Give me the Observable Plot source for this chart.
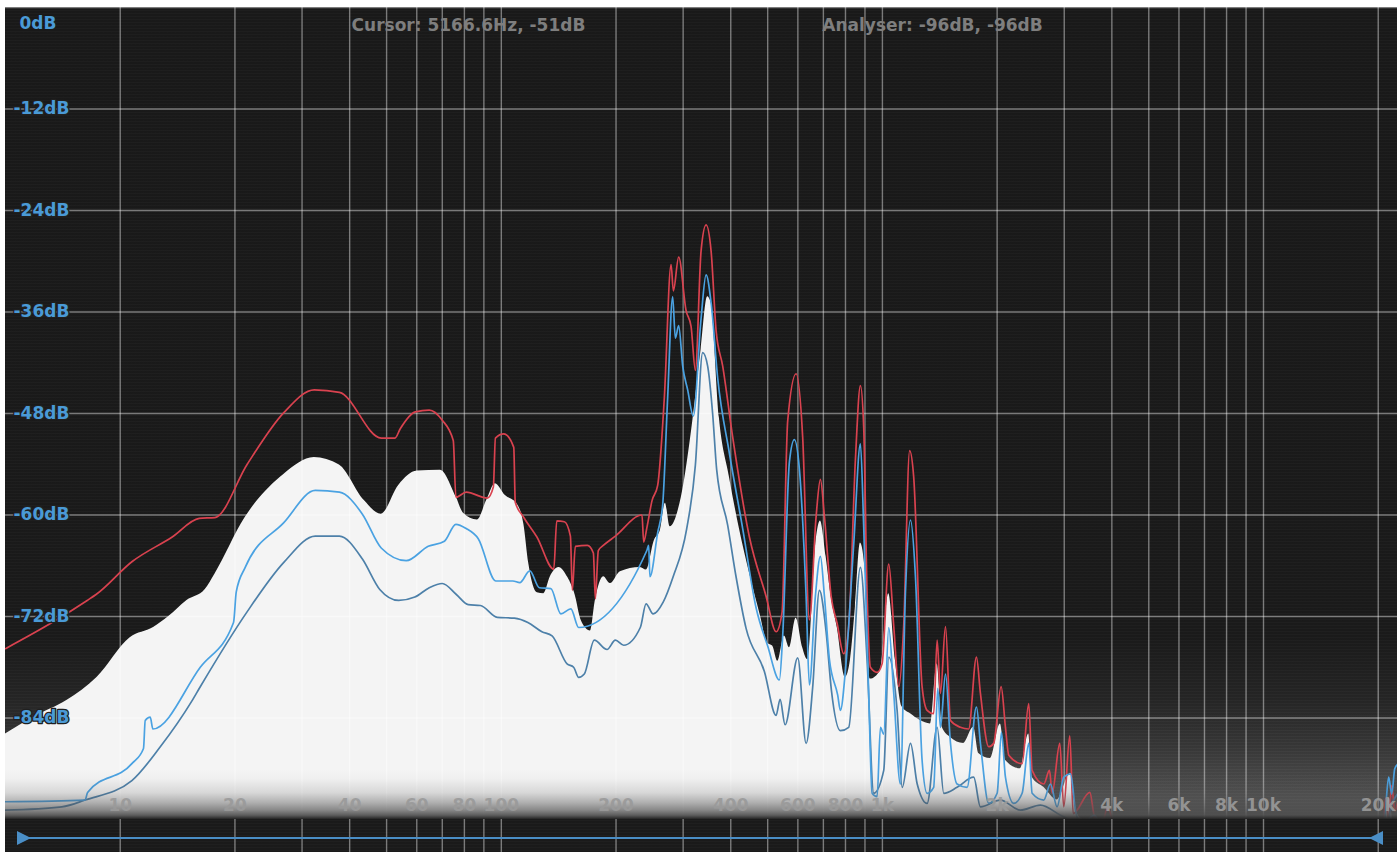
<!DOCTYPE html>
<html>
<head>
<meta charset="utf-8">
<script src="https://cdn.jsdelivr.net/npm/d3@7"></script>
<script src="https://cdn.jsdelivr.net/npm/@observablehq/plot@0.6"></script>
<style>
html, body { margin: 0; padding: 0; background: #ffffff; overflow: hidden; }
#panel {
  position: absolute; left: 5px; top: 7px; width: 1392px; height: 845px; overflow: hidden;
  background-image:
    repeating-linear-gradient(to bottom, rgba(255,255,255,0.018) 0px, rgba(255,255,255,0.018) 1px, rgba(0,0,0,0.035) 1px, rgba(0,0,0,0.035) 3px),
    linear-gradient(to bottom, #1a1a1a 0px, #1b1b1b 630px, #262626 693px, #3a3a3a 743px, #565656 795px, #565656 812px, #1b1b1b 812px, #1b1b1b 845px);
}
#panel svg { display: block; }
</style>
</head>
<body>
<div id="panel"></div>
<script>
// ---- Data (frequency in Hz, level in dB) ----
const redHz = [5, 6.69, 8.19, 8.64, 10.75, 13.69, 16.12, 17.72, 21.54, 26.87,
  32.3, 37.6, 48.4, 52.6, 54.3, 59.5, 64.7, 70.0, 74.8, 76.0,
  80.9, 91.9, 95.3, 96.5, 101.5, 107.8, 108.8, 114.2, 124, 137.3,
  139.8, 146.4, 151.8, 153.6, 156.4, 168.2, 174.4, 176.5, 179.7, 185.2,
  199.2, 234, 236.3, 241.2, 248.6, 257.2, 267.8, 278.9, 282.8, 292,
  305.3, 314.7, 323, 334.3, 344.6, 355.2, 366.1, 381, 404.7, 447.7,
  495.1, 526, 545.4, 564.2, 593.6, 617.7, 643.3, 669.9, 687.6, 704.4,
  733.5, 760.5, 791.4, 815.8, 849.4, 875.6, 893.1, 911.6, 930, 968.5,
  998, 1039, 1071, 1104, 1137, 1179, 1208, 1271, 1310, 1363,
  1392, 1420, 1464, 1509, 1602, 1684, 1765, 1808, 1901, 1959,
  2049, 2103, 2146, 2326, 2421, 2471, 2651, 2744, 2789, 2920,
  2992, 3102, 3167, 3502, 3586, 3734,
  3900, 4100, 6000, 12000, 20300, 20900, 21300, 21700, 22100, 22470];
const redDb = [-75.8, -72.6, -70.1, -69.4, -65.5, -62.6, -60.4, -60.3, -54.0, -47.9,
  -45.2, -45.5, -50.9, -50.9, -49.8, -47.8, -47.6, -48.8, -51.2, -57.9,
  -57.3, -58.0, -56.7, -50.9, -50.4, -52.0, -58.5, -60.2, -62.6, -66.4,
  -60.7, -60.8, -62.5, -68.9, -63.7, -63.6, -64.5, -69.9, -64.2, -63.6,
  -62.5, -60.0, -63.2, -61.4, -58.3, -56.5, -46.1, -30.4, -33.5, -29.5,
  -35.8, -37.7, -42.9, -28.8, -25.7, -28.8, -38.2, -42.4, -50.8, -62.6,
  -69.6, -73.8, -71.5, -48.9, -43.3, -50.8, -72.4, -60.2, -55.8, -60.2,
  -69.6, -72.8, -76.4, -73.2, -53.5, -44.7, -49.6, -69.3, -78.0, -78.6,
  -77.6, -65.8, -73.2, -80.3, -73.2, -52.4, -55.5, -80.3, -83.1, -83.5,
  -74.8, -81.1, -73.2, -84.3, -85.1, -85.3, -76.8, -81.1, -87.4, -87.0,
  -80.3, -85.1, -88.4, -89.4, -82.3, -90.2, -91.8, -90.2, -92.9, -87.0,
  -94.5, -86.1, -95.3, -92.8, -95.3, -97.3,
  -94.6, -98, -110, -115, -104, -93.5, -96, -92.0, -95, -94];

const whiteHz = [5, 5.92, 7.26, 8.69, 10.62, 12.23, 13.41, 14.97, 16.72, 17.72,
  21.28, 26.87, 32.3, 37.6, 43.7, 48.4, 53.8, 60.2, 69.2, 76.2,
  79.6, 86.5, 91.7, 96.5, 102.5, 110, 114.6, 118.1, 124.3, 129.3,
  134.5, 141.6, 149.5, 156.1, 162.2, 171.3, 176.5, 185.6, 193.3, 205.3,
  231.6, 240.3, 252.2, 261.5, 269.5, 277.3, 296.8, 317.8, 334.3, 347.9,
  355.2, 373.4, 396.7, 421.4, 447.7, 478.5, 500, 515.2, 531.2, 553.2,
  570.2, 593.6, 617.7, 636.6, 669.9, 687.6, 711.6, 733.5, 761.9, 799.6,
  824.1, 849.4, 875.6, 902.6, 930.1, 988.1, 1039, 1082, 1127, 1185,
  1258, 1337, 1392, 1435, 1509, 1634, 1736, 1790, 1920, 2040,
  2103, 2302, 2421, 2471, 2651, 2873, 3115, 3243, 3411,
  3800, 6000, 15000, 20500, 21000, 21400, 21800, 22470];
const whiteDb = [-85.9, -83.9, -81.9, -79.2, -74.5, -73.3, -72.0, -70.1, -68.8, -67.0,
  -60.3, -55.2, -53.2, -54.1, -58.3, -59.9, -56.5, -54.8, -54.7, -57.9,
  -59.8, -60.6, -58.2, -56.3, -57.7, -58.7, -61.1, -65.8, -69.2, -69.3,
  -67.3, -66.2, -67.4, -69.4, -72.5, -73.7, -70.1, -67.3, -68.1, -66.7,
  -66.2, -66.5, -63.0, -61.8, -58.6, -61.4, -57.9, -49.0, -40.5, -34.2,
  -34.9, -48.5, -55.5, -61.6, -66.8, -71.9, -75.2, -75.5, -77.3, -74.3,
  -75.7, -72.2, -75.7, -77.1, -63.0, -60.7, -64.9, -69.6, -73.4, -79.2,
  -77.2, -70.9, -63.3, -66.9, -79.4, -78.4, -69.3, -77.2, -82.7, -83.5,
  -84.3, -84.7, -77.6, -85.1, -86.3, -87.0, -85.1, -88.2, -88.8, -84.7,
  -89.0, -90.0, -85.9, -91.0, -92.2, -93.7, -90.6, -95.3, -96.3,
  -99, -115, -115, -100, -94.5, -93.5, -96, -98];

const lightHz = [5, 8.09, 8.21, 10.73, 11.51, 11.63, 11.99, 12.18, 16.22, 19.83,
  20.16, 21.28, 26.87, 32.5, 37.6, 43.2, 48.4, 56.3, 64.3, 70.9,
  76.0, 80.9, 87.0, 96.7, 107.2, 111.8, 118.8, 125.8, 134.9, 143.3,
  152.2, 159.6, 240.9, 243.6, 245.4, 257.2, 265.1, 273.2, 281.6, 286.2,
  292, 299.2, 308.3, 319, 334.3, 344.6, 355.2, 369.6, 396.7, 429.9,
  466.3, 500, 536.7, 547.4, 570.2, 587.5, 605.6, 630.6, 643.3, 667,
  687.6, 704.4, 726.1, 763.3, 775.9, 799.6, 841, 875.6, 893.1, 920.4,
  939.8, 968.5, 988.1, 1008, 1039, 1071, 1115, 1149, 1185, 1221,
  1271, 1310, 1363, 1397, 1420, 1464, 1509, 1570, 1668, 1765,
  1808, 1901, 2000, 2053, 2103, 2211, 2326, 2421, 2471, 2651,
  2760, 2873, 2992, 3115, 3211, 3310,
  3600, 3800, 6000, 15000, 20500, 20900, 21300, 21700, 22100, 22470];
const lightDb = [-93.9, -93.7, -92.8, -89.4, -87.6, -84.3, -83.9, -85.3, -78.0, -72.7,
  -69.1, -66.2, -60.9, -57.1, -57.3, -59.9, -63.9, -65.4, -63.7, -63.1,
  -61.1, -61.6, -62.8, -67.8, -67.8, -68.0, -66.6, -68.6, -68.7, -71.7,
  -71.1, -73.3, -64.2, -63.6, -67.3, -62.1, -58.8, -46.1, -34.2, -39.1,
  -37.6, -42.4, -45.2, -48.3, -36.8, -31.6, -34.9, -43.8, -52.7, -61.6,
  -71.0, -75.5, -79.5, -74.3, -53.7, -51.1, -54.6, -69.6, -80.1, -69.6,
  -64.9, -69.6, -77.1, -81.3, -83.1, -78.4, -63.4, -51.6, -61.4, -81.1,
  -92.9, -93.3, -85.1, -85.9, -73.3, -81.1, -91.8, -69.3, -60.6, -67.3,
  -89.0, -92.9, -92.2, -80.5, -85.1, -78.8, -87.0, -91.8, -92.2, -82.7,
  -87.0, -94.1, -92.9, -85.7, -91.0, -94.1, -92.9, -87.0, -92.9, -93.7,
  -91.8, -94.5, -91.0, -90.6, -94.9, -96.7,
  -95.5, -98, -115, -115, -100, -95, -91, -93, -90, -89.5];

const darkHz = [5, 7.03, 8.09, 10.73, 12.74, 15.41, 16.22, 21.41, 26.87, 32.5,
  37.6, 43.2, 47.98, 53.8, 59.3, 64.7, 70.0, 76.2, 81.9, 88.1,
  97.6, 108.2, 117.4, 127.8, 135.9, 148.8, 154.8, 159.6, 165.1, 175.4,
  189.4, 199.2, 209.4, 231.6, 239.8, 250.3, 265.9, 282.4, 306.3, 323,
  337.6, 347.9, 358.5, 367.3, 392.6, 413, 438.8, 490.1, 526, 538.9,
  555.4, 599.5, 630.6, 656.1, 683.4, 711.6, 734.7, 775.9, 815.8, 875.6,
  911.6, 949, 1008, 1039, 1093, 1127, 1185, 1234, 1310, 1392,
  1449, 1570, 1736, 1808, 2040, 2302, 2598, 2933, 3310,
  4000, 15000, 20800, 21500, 22470];
const darkDb = [-94.9, -94.5, -93.7, -91.4, -87.4, -82.0, -80.3, -71.6, -65.6, -62.5,
  -62.5, -65.2, -68.8, -70.1, -69.7, -68.6, -68.1, -69.4, -70.6, -70.7,
  -72.1, -72.2, -72.7, -73.8, -74.3, -77.6, -78.0, -79.2, -78.8, -74.8,
  -75.9, -74.8, -75.4, -73.3, -70.5, -71.7, -70.3, -67.3, -61.7, -54.1,
  -40.8, -42.4, -48.0, -54.6, -61.2, -67.3, -73.4, -78.5, -83.7, -81.8,
  -84.8, -76.9, -87.0, -80.4, -68.9, -73.8, -80.7, -85.5, -85.1, -66.2,
  -77.2, -92.9, -90.2, -76.8, -83.1, -92.2, -87.0, -91.8, -94.1, -85.1,
  -92.9, -92.2, -91.0, -94.5, -93.7, -94.9, -94.3, -95.5, -96.7,
  -100, -115, -100, -95, -93];

const gridHz = [10, 20, 30, 40, 50, 60, 70, 80, 90, 100, 200, 300, 400, 500, 600, 700, 800, 900,
  1000, 2000, 3000, 4000, 5000, 6000, 7000, 8000, 9000, 10000, 20000];
const xTickHz = [10, 20, 40, 60, 80, 100, 200, 400, 600, 800, 1000, 2000, 4000, 6000, 8000, 10000, 20000];
const xTickText = ["10", "20", "40", "60", "80", "100", "200", "400", "600", "800", "1k", "2k", "4k", "6k", "8k", "10k", "20k"];
const dbTicks = [-12, -24, -36, -48, -60, -72, -84];
const dbGrid = [0, -12, -24, -36, -48, -60, -72, -84];
const headerTexts = ["Cursor: 5166.6Hz, -51dB", "Analyser: -96dB, -96dB"];
const headerOffsets = [-233, 231];

// ---- Build tables ----
const zip = (xs, ys) => xs.map((f, i) => ({f, db: ys[i]}));
const red = zip(redHz, redDb);
const white = zip(whiteHz, whiteDb);
const light = zip(lightHz, lightDb);
const dark = zip(darkHz, darkDb);

const FONT = "DejaVu Sans";
const CURVE = "monotone-x";

function bottomFade(index, scales, values, dim) {
  const yb = scales.y(-96);
  const g = d3.create("svg:g");
  const grad = g.append("defs").append("linearGradient")
    .attr("id", "fadeGrad").attr("x1", 0).attr("x2", 0).attr("y1", 0).attr("y2", 1);
  const stops = [[0, 0], [0.2, 0.03], [0.47, 0.17], [0.67, 0.41], [0.82, 0.65], [0.92, 0.9], [1, 1]];
  stops.forEach(([o, a], i) => grad.append("stop")
    .attr("offset", o)
    .attr("stop-color", i === stops.length - 1 ? "#242424" : "rgb(78,78,78)")
    .attr("stop-opacity", a));
  g.append("rect")
    .attr("x", dim.marginLeft)
    .attr("width", dim.width - dim.marginLeft - dim.marginRight)
    .attr("y", yb - 50).attr("height", 50)
    .attr("fill", "url(#fadeGrad)");
  return g.node();
}

function slider(index, scales, values, dim) {
  const yy = dim.height - 14;
  const x0 = dim.marginLeft + 12;
  const x1 = dim.width - dim.marginRight - 14;
  const g = d3.create("svg:g").attr("fill", "#4a8ec6").attr("stroke", "#4a8ec6");
  g.append("line").attr("x1", x0).attr("x2", x1).attr("y1", yy).attr("y2", yy).attr("stroke-width", 2);
  g.append("polygon").attr("stroke", "none").attr("points", `${x0},${yy - 7} ${x0},${yy + 7} ${x0 + 14},${yy}`);
  g.append("polygon").attr("stroke", "none").attr("points", `${x1},${yy - 7} ${x1},${yy + 7} ${x1 - 14},${yy}`);
  return g.node();
}

const chart = Plot.plot({
  width: 1392,
  height: 845,
  marginTop: 0,
  marginLeft: 0,
  marginRight: 0,
  marginBottom: 33,
  style: {background: "transparent", fontFamily: FONT, overflow: "visible"},
  x: {type: "log", domain: [5, 22470], axis: null},
  y: {domain: [-96, 0], axis: null},
  marks: [
    Plot.areaY(white, {x: "f", y1: -140, y2: "db", fill: "#f4f4f4", curve: CURVE, clip: true}),
    Plot.ruleX(gridHz, {x: d => d, y1: 0, y2: -100, stroke: "#ffffff", strokeOpacity: 0.42, strokeWidth: 1.4}),
    Plot.ruleY(dbGrid, {y: d => d, stroke: "#ffffff", strokeOpacity: 0.42, strokeWidth: 1.4}),
    Plot.line(red, {x: "f", y: "db", stroke: "#d9424f", strokeWidth: 1.7, curve: CURVE, clip: true}),
    Plot.line(dark, {x: "f", y: "db", stroke: "#4d80a9", strokeWidth: 1.7, curve: CURVE, clip: true}),
    Plot.line(light, {x: "f", y: "db", stroke: "#4aa2e2", strokeWidth: 1.7, curve: CURVE, clip: true}),
    bottomFade,
    Plot.text(xTickHz, {x: d => d, text: (d, i) => xTickText[i], frameAnchor: "bottom", dy: -14,
      lineAnchor: "middle", fill: "#9a9a9a", fillOpacity: 0.92, fontSize: 17, fontWeight: 700, fontFamily: FONT}),
    Plot.text(dbTicks, {y: d => d, text: d => `${d}dB`, frameAnchor: "left", dx: 8, textAnchor: "start",
      lineAnchor: "middle", fill: "#4a9ad6", stroke: "#202020", strokeWidth: 2.5, paintOrder: "stroke",
      fontSize: 17, fontWeight: 700, fontFamily: FONT}),
    Plot.text([0], {y: d => d, text: ["0dB"], frameAnchor: "left", dx: 14, dy: 16, textAnchor: "start",
      lineAnchor: "middle", fill: "#4a9ad6", fontSize: 17, fontWeight: 700, fontFamily: FONT}),
    Plot.text([headerTexts[0]], {text: d => d, frameAnchor: "top", lineAnchor: "middle", dy: 18, dx: headerOffsets[0],
      fill: "#7e7e7e", fontSize: 17, fontWeight: 700, fontFamily: FONT}),
    Plot.text([headerTexts[1]], {text: d => d, frameAnchor: "top", lineAnchor: "middle", dy: 18, dx: headerOffsets[1],
      fill: "#7e7e7e", fontSize: 17, fontWeight: 700, fontFamily: FONT}),
    slider
  ]
});

document.getElementById("panel").appendChild(chart);
</script>
</body>
</html>
